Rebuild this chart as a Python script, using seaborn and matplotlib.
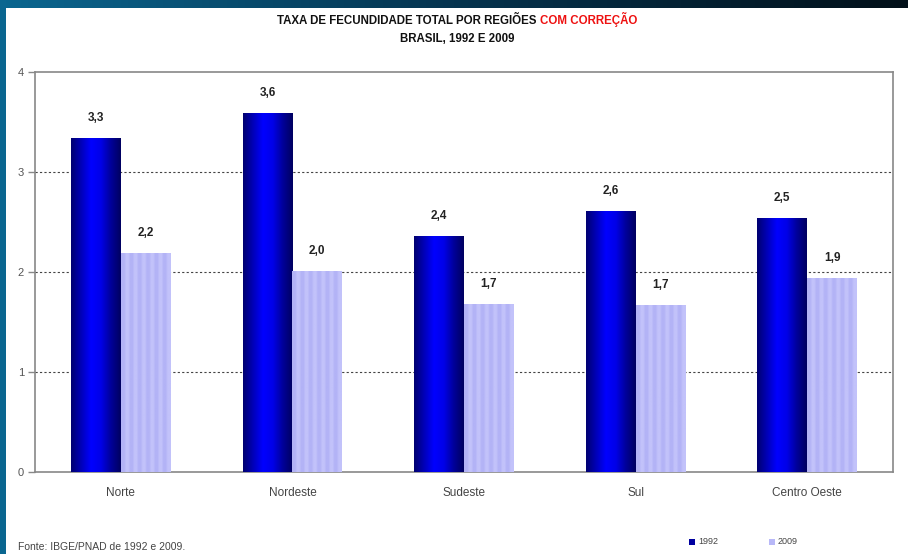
import numpy as np
import pandas as pd
import matplotlib
matplotlib.use("Agg")
import matplotlib.pyplot as plt
import seaborn as sns
from matplotlib.colors import LinearSegmentedColormap

# ---- data ----
regions = ["Norte", "Nordeste", "Sudeste", "Sul", "Centro Oeste"]
years = ["1992", "2009"]
tfr_1992 = [3.34, 3.59, 2.36, 2.61, 2.54]
tfr_2009 = [2.19, 2.01, 1.68, 1.67, 1.94]
y_ticks = [0, 1, 2, 3, 4]

df = pd.DataFrame({
    "regiao": regions * 2,
    "ano": [years[0]] * len(regions) + [years[1]] * len(regions),
    "tft": tfr_1992 + tfr_2009,
})

sns.set_theme(style="white")
FONT = ["Liberation Sans Narrow", "Liberation Sans", "DejaVu Sans"]
plt.rcParams["font.family"] = FONT

W, H = 908, 554
fig = plt.figure(figsize=(W / 100, H / 100), dpi=100)
fig.patch.set_facecolor("white")

# frame strips (slide background)
top_ax = fig.add_axes([0, 1 - 8 / H, 1, 8 / H])
grad = np.linspace(0, 1, 256).reshape(1, -1)
top_cmap = LinearSegmentedColormap.from_list("top", ["#0a6690", "#06344f", "#021019"])
top_ax.imshow(grad, aspect="auto", cmap=top_cmap, extent=[0, 1, 0, 1])
top_ax.set_axis_off()
left_ax = fig.add_axes([0, 0, 6 / W, 1])
left_ax.set_facecolor("#0a6690")
left_ax.set_xticks([]); left_ax.set_yticks([])
for s in left_ax.spines.values():
    s.set_visible(False)

# main axes
x0, x1, ytop, ybot = 35, 893, 72, 472
ax = fig.add_axes([x0 / W, 1 - ybot / H, (x1 - x0) / W, (ybot - ytop) / H])

palette = {"1992": "#0000cc", "2009": "#b8b8f8"}
sns.barplot(data=df, x="regiao", y="tft", hue="ano", order=regions,
            hue_order=years, palette=palette, width=0.58, saturation=1,
            edgecolor="none", linewidth=0, legend=False, ax=ax, zorder=3)

ax.set_ylim(0, 4)
ax.set_xlim(-0.5, len(regions) - 0.5)
ax.set_yticks(y_ticks)
ax.set_yticklabels([str(t) for t in y_ticks], color="#555555", fontsize=8)
ax.set_xticks(range(len(regions)))
ax.set_xticklabels(regions, color="#444444", fontsize=8.5)
ax.tick_params(axis="x", which="major", length=0, pad=11)
ax.set_xticks(np.arange(0.5, len(regions) - 0.5, 1), minor=True)
ax.tick_params(axis="x", which="minor", length=5, direction="out", color="#888888", width=1)
ax.tick_params(axis="y", length=5, direction="out", color="#888888", width=1, pad=3, left=True)
ax.set_xlabel(""); ax.set_ylabel("")
for s in ax.spines.values():
    s.set_visible(True)
    s.set_color("#888888")
    s.set_linewidth(1.2)
for yv in [1, 2, 3]:
    ax.axhline(yv, color="#444444", linestyle=(0, (2, 2)), linewidth=0.8, zorder=1)

# gradient / stripe fills clipped to bars
navy = LinearSegmentedColormap.from_list(
    "navy", ["#000070", "#0000b8", "#0000ff", "#0000e8", "#00009a", "#000060"])
stripe_pattern = np.array([[0, 0, 1, 1, 0, 0, 1, 1, 0, 0, 1, 1, 0, 0, 1, 1, 0, 0, 1, 1, 0, 0, 1, 1]], float)
lav = LinearSegmentedColormap.from_list("lav", ["#b3b3f6", "#c2c2fa"])
for cont, yr in zip(ax.containers, years):
    for p in cont.patches:
        bx, by = p.get_x(), p.get_y()
        bw, bh = p.get_width(), p.get_height()
        if yr == "1992":
            im = ax.imshow(np.linspace(0, 1, 128).reshape(1, -1), cmap=navy, aspect="auto",
                           extent=[bx, bx + bw, by, by + bh], zorder=3.5, interpolation="bilinear")
        else:
            im = ax.imshow(stripe_pattern, cmap=lav, aspect="auto",
                           extent=[bx, bx + bw, by, by + bh], zorder=3.5, interpolation="bilinear")
        im.set_clip_path(p)
ax.set_xlim(-0.5, len(regions) - 0.5)
ax.set_ylim(0, 4)

# value labels
for cont in ax.containers:
    for p in cont.patches:
        v = p.get_height()
        ax.annotate(f"{v:.1f}".replace(".", ","), (p.get_x() + p.get_width() / 2, v),
                    xytext=(0, 10), textcoords="offset points", ha="center", va="bottom",
                    fontsize=8.5, fontweight="bold", color="#222222", zorder=5)

# title (two colours)
fig.canvas.draw()
r = fig.canvas.get_renderer()
TS = 8.3
t1 = fig.text(0, 1 - 24 / H, "TAXA DE FECUNDIDADE TOTAL POR REGIÕES ", fontsize=TS,
              fontweight="bold", color="#111111", va="baseline", ha="left")
t2 = fig.text(0, 1 - 24 / H, "COM CORREÇÃO", fontsize=TS, fontweight="bold",
              color="#ee1111", va="baseline", ha="left")
w1 = t1.get_window_extent(r).width
w2 = t2.get_window_extent(r).width
start = 457 - (w1 + w2) / 2
t1.set_x(start / W)
t2.set_x((start + w1) / W)
fig.text(457 / W, 1 - 42 / H, "BRASIL, 1992 E 2009", fontsize=TS, fontweight="bold",
         color="#111111", va="baseline", ha="center")

# footer
fig.text(18 / W, 1 - 547 / H, "Fonte: IBGE/PNAD de 1992 e 2009.", fontsize=7.5,
         color="#444444", va="center", ha="left")

# legend
for xs, yr in [(689, "1992"), (769, "2009")]:
    fig.patches.append(plt.Rectangle((xs / W, 1 - 545 / H), 6 / W, 6 / H,
                                     transform=fig.transFigure,
                                     facecolor=palette[yr] if yr == "2009" else "#0000a0",
                                     edgecolor="none", figure=fig))
    fig.text((xs + 9) / W, 1 - 542 / H, yr, fontsize=6.5, color="#444444", va="center", ha="left")

fig.savefig("out.png", dpi=100, facecolor="white")
